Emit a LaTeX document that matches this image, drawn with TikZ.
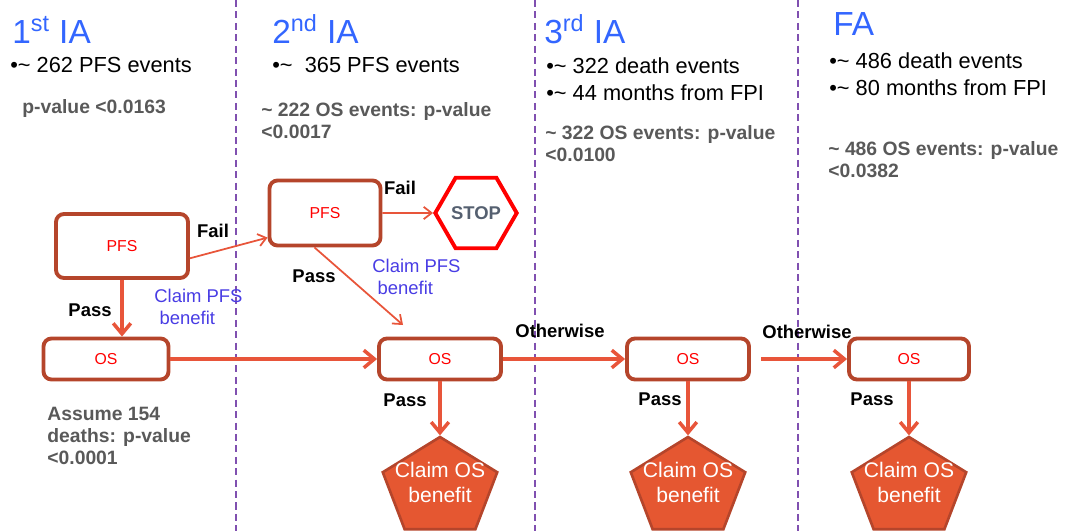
\documentclass[tikz,border=0pt]{standalone}
\usepackage{fontspec}
\setmainfont{Liberation Sans}
\usepackage{tikz}
\usetikzlibrary{shapes.geometric, arrows.meta, positioning}

\definecolor{boxline}{RGB}{181,69,43}
\definecolor{flow}{RGB}{232,85,58}
\definecolor{claimfill}{RGB}{229,87,49}
\definecolor{headblue}{RGB}{51,102,255}
\definecolor{notegray}{RGB}{89,89,89}
\definecolor{claimblue}{RGB}{72,60,228}
\definecolor{sepline}{RGB}{128,80,176}
\definecolor{stopgray}{RGB}{85,96,112}

\newcommand{\fs}[2]{\fontsize{#1}{#2}\selectfont}

\begin{document}
\begin{tikzpicture} [
    x=0.02cm, y=-0.02cm,
    box/.style={rectangle, draw=boxline, line width=2.2pt, rounded corners=0.16cm, minimum width=2.44cm, minimum height=0.82cm, text=red, font=\fs{9}{11}},
    pent/.style={regular polygon, regular polygon sides=5, draw=boxline, line width=1.5pt, fill=claimfill, minimum size=2.04cm, inner sep=0pt, xscale=1.18},
    pent_text/.style={text=white, align=center, font=\fs{12}{14.2}},
    stop_hex/.style={regular polygon, regular polygon sides=6, draw=red, line width=2.2pt, minimum size=1.6cm, inner sep=0pt, text=stopgray, font=\bfseries\fs{10.5}{12}},
    ia_head/.style={anchor=base west, inner sep=0pt, text=headblue, font=\fs{19}{21}},
    bullet/.style={anchor=base west, inner sep=0pt, align=left, font=\fs{12.4}{15.5}},
    note/.style={anchor=north west, inner sep=0pt, align=left, text=notegray, font=\bfseries\fs{11}{12.6}},
    anno/.style={inner sep=0pt, font=\bfseries\fs{10.5}{12}},
    claim_pfs/.style={anchor=north west, inner sep=0pt, align=left, text=claimblue, font=\fs{10.5}{12.5}},
    line/.style={draw=flow, line width=2pt, -{Straight Barb[length=6pt, width=10pt]}},
    thin_line/.style={draw=flow, line width=1pt, -{Straight Barb[length=4.5pt, width=7pt]}},
    divider/.style={draw=sepline, line width=1pt, dash pattern=on 4pt off 2.5pt}
]
    \useasboundingbox (0,0) rectangle (1072,531);

    % Dividers between the analyses
    \foreach \x in {236, 535, 798}
        \draw[divider] (\x,0) -- (\x,531);

    % Headers
    \node[ia_head] (head1) at (12,43) {1\textsuperscript{st} IA};
    \node[ia_head] (head2) at (272,43) {2\textsuperscript{nd} IA};
    \node[ia_head] (head3) at (544,43) {3\textsuperscript{rd} IA};
    \node[ia_head] (head4) at (833,35) {FA};

    \node[bullet] (events1) at (10,72) {•\textasciitilde{} 262 PFS events};
    \node[bullet] (events2) at (272,72) {•\textasciitilde{}\ \ 365 PFS events};
    \node[bullet, anchor=north west] (events3) at (546,57) {•\textasciitilde{} 322 death events\\•\textasciitilde{} 44 months from FPI};
    \node[bullet, anchor=north west] (events4) at (829,52) {•\textasciitilde{} 486 death events\\•\textasciitilde{} 80 months from FPI};

    \node[note, anchor=base west] (pval1) at (22,113) {p-value <0.0163};
    \node[note] (pval2) at (261,102) {\textasciitilde{} 222 OS events: p-value\\<0.0017};
    \node[note] (pval3) at (545,125) {\textasciitilde{} 322 OS events: p-value\\<0.0100};
    \node[note] (pval4) at (828,141) {\textasciitilde{} 486 OS events: p-value\\<0.0382};
    \node[note] (assume) at (47,407) {Assume 154\\deaths: p-value\\<0.0001};

    % Nodes
    \node[box, minimum width=2.64cm, minimum height=1.28cm] (pfs1) at (122,246) {PFS};
    \node[box, minimum width=2.22cm, minimum height=1.3cm] (pfs2) at (325,213) {PFS};
    \node[stop_hex] (stop) at (476,213) {STOP};

    \node[box, minimum width=2.5cm] (os1) at (106,359) {OS};
    \node[box] (os2) at (440,359) {OS};
    \node[box] (os3) at (688,359) {OS};
    \node[box, minimum width=2.4cm] (os4) at (909,359) {OS};

    \node[pent] (claim2) at (440,488) {};
    \node[pent_text] (claim2_txt) at (440,482) {Claim OS\\benefit};
    \node[pent] (claim3) at (688,488) {};
    \node[pent_text] (claim3_txt) at (688,482) {Claim OS\\benefit};
    \node[pent] (claim4) at (909,488) {};
    \node[pent_text] (claim4_txt) at (909,482) {Claim OS\\benefit};

    \coordinate (pfs2_pass) at (403,325);

    % Labels
    \node[anno] (fail1) at (213,231) {Fail};
    \node[anno] (pass1) at (90,310) {Pass};
    \node[claim_pfs] (benefit1) at (154,289) {Claim PFS\\\hspace*{3pt}benefit};
    \node[anno] (fail2) at (400,188) {Fail};
    \node[anno] (pass2) at (314,276) {Pass};
    \node[claim_pfs] (benefit2) at (372,259) {Claim PFS\\\hspace*{3pt}benefit};
    \node[anno] (pass_os2) at (405,400) {Pass};
    \node[anno] (other3) at (560,331) {Otherwise};
    \node[anno] (pass_os3) at (660,399) {Pass};
    \node[anno] (other4) at (807,332) {Otherwise};
    \node[anno] (pass_os4) at (872,399) {Pass};

    % Arrows
    \path [line] (pfs1.south) -- (pfs1.south |- os1.north);
    \path [thin_line] ([yshift=-7pt]pfs1.east) -- ([yshift=-14pt]pfs2.west);
    \path [thin_line] (pfs2.east) -- (stop.west);
    \path [thin_line] ([xshift=-6pt]pfs2.south) -- (pfs2_pass);
    \path [line] (os1) -- (os2);
    \path [line] (os2) -- (os3);
    \path [line, shorten <=6pt] (os3) -- (os4);
    \path [line] (os2.south) -- (claim2.north);
    \path [line] (os3.south) -- (claim3.north);
    \path [line] (os4.south) -- (claim4.north);

\end{tikzpicture}
\end{document}
